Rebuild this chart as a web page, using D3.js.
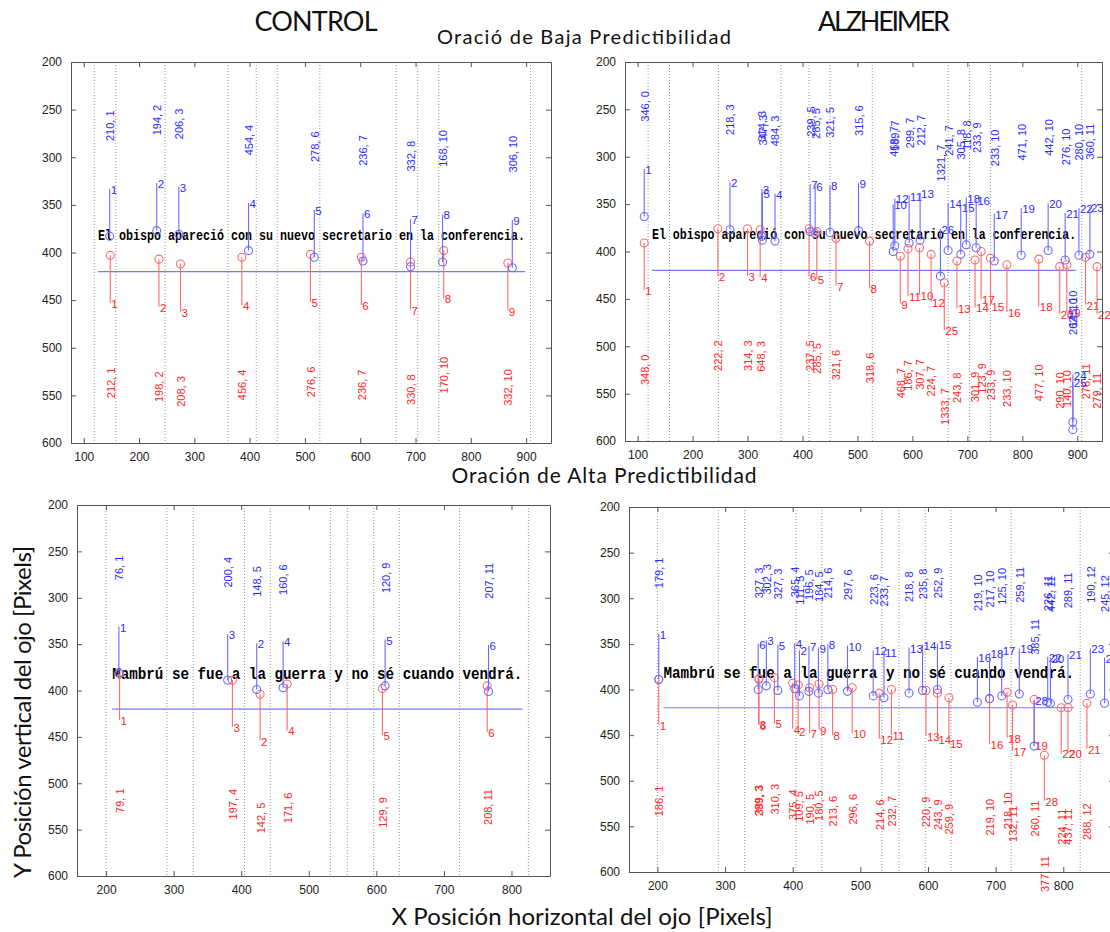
<!DOCTYPE html>
<html>
<head>
<meta charset="utf-8">
<script src="https://cdn.jsdelivr.net/npm/d3@7"></script>
<style>
  body { margin: 0; background: #fff; }
  svg { display: block; }
  text { font-family: "Liberation Sans", Arial, sans-serif; }
</style>
</head>
<body>
<svg width="1110" height="932"></svg>
<script>
// sentences shown under the fixations
var sentenceBaja = "El obispo apareció con su nuevo secretario en la conferencia.";
var sentenceAlta = "Mambrú se fue a la guerra y no sé cuando vendrá.";
var spanBaja = [126, 898];   // x extent of the sentence (pixels of the eye tracker)
var spanAlta = [209, 816];
var sentenceY = 383;
var lineY = 420;

// word boundaries (dotted lines)
var edgesBaja = [119, 158, 247, 361, 412, 450, 527, 665, 704, 742, 908];
var edgesAlta = [200, 290, 329, 405, 443, 532, 557, 596, 634, 723, 825];

var yTicks = [200, 250, 300, 350, 400, 450, 500, 550, 600];
var xTicksBaja = [100, 200, 300, 400, 500, 600, 700, 800, 900];
var xTicksAlta = [200, 300, 400, 500, 600, 700, 800];

// fixations: [order, x, y, duration, word]
var controlBajaBlue = [
  [1, 147, 383, 210, 1], [2, 232, 377, 194, 2], [3, 272, 381, 206, 3],
  [4, 398, 398, 454, 4], [5, 517, 405, 278, 6], [6, 605, 409, 236, 7],
  [7, 691, 415, 332, 8], [8, 749, 410, 168, 10], [9, 875, 416, 306, 10]
];
var controlBajaRed = [
  [1, 148, 403, 212, 1], [2, 236, 407, 198, 2], [3, 275, 412, 208, 3],
  [4, 386, 405, 456, 4], [5, 510, 402, 276, 6], [6, 602, 405, 236, 7],
  [7, 691, 410, 330, 8], [8, 751, 398, 170, 10], [9, 867, 411, 332, 10]
];
var alzBajaBlue = [
  [1, 112, 363, 346, 0], [2, 268, 377, 218, 3], [3, 326, 384, 314, 3],
  [5, 327, 388, 347, 3], [4, 350, 389, 484, 3], [7, 414, 379, 239, 5],
  [6, 423, 381, 285, 5], [8, 450, 380, 321, 5], [9, 502, 378, 315, 6],
  [10, 565, 400, 468, 7], [12, 568, 394, 189, 7], [11, 594, 391, 299, 7],
  [13, 614, 388, 212, 7], [26, 651, 426, 1321, 7], [14, 665, 399, 241, 7],
  [15, 688, 403, 305, 8], [18, 698, 393, 118, 8], [16, 716, 396, 233, 9],
  [17, 749, 410, 233, 10], [19, 798, 404, 471, 10], [20, 847, 399, 442, 10],
  [21, 878, 409, 276, 10], [22, 903, 404, 280, 10], [23, 923, 403, 360, 11],
  [24, 892, 580, 145, 10], [25, 892, 588, 262, 10]
];
var alzBajaRed = [
  [1, 112, 391, 348, 0], [2, 246, 376, 222, 2], [3, 300, 376, 314, 3],
  [4, 323, 377, 648, 3], [6, 412, 376, 237, 5], [5, 426, 379, 285, 5],
  [7, 461, 386, 321, 6], [8, 522, 389, 318, 6], [9, 578, 405, 468, 7],
  [11, 592, 397, 186, 7], [10, 613, 396, 307, 7], [12, 634, 403, 224, 7],
  [25, 658, 433, 1333, 7], [13, 681, 410, 243, 8], [14, 714, 409, 301, 9],
  [17, 725, 400, 123, 9], [15, 742, 407, 233, 9], [16, 772, 414, 233, 10],
  [18, 830, 408, 477, 10], [20, 868, 416, 290, 10], [19, 881, 414, 140, 10],
  [21, 915, 406, 276, 11], [22, 936, 416, 279, 11]
];
var controlAltaBlue = [
  [1, 219, 381, 76, 1], [3, 380, 389, 200, 4], [2, 423, 399, 148, 5],
  [4, 462, 397, 160, 6], [5, 613, 395, 120, 9], [6, 766, 401, 207, 11]
];
var controlAltaRed = [
  [1, 220, 382, 79, 1], [3, 387, 389, 197, 4], [2, 428, 404, 142, 5],
  [4, 468, 393, 171, 6], [5, 609, 398, 129, 9], [6, 764, 395, 208, 11]
];
var alzAltaBlue = [
  [1, 202, 389, 179, 1], [6, 349, 400, 327, 3], [3, 361, 396, 302, 3],
  [5, 378, 401, 327, 3], [4, 403, 399, 365, 4], [2, 410, 407, 111, 5],
  [7, 424, 402, 196, 5], [9, 438, 404, 184, 5], [8, 452, 400, 214, 6],
  [10, 481, 402, 297, 6], [12, 519, 407, 223, 6], [11, 535, 409, 233, 7],
  [13, 572, 404, 218, 8], [14, 592, 401, 235, 8], [15, 614, 400, 252, 9],
  [16, 673, 414, 219, 10], [18, 691, 410, 217, 10], [17, 709, 407, 125, 10],
  [19, 735, 405, 259, 11], [28, 757, 462, 385, 11], [22, 777, 414, 226, 11],
  [20, 781, 415, 442, 11], [21, 807, 411, 289, 11], [23, 840, 405, 190, 12],
  [24, 861, 415, 245, 12]
];
var alzAltaRed = [
  [1, 202, 389, 186, 1], [6, 350, 389, 299, 3], [3, 350, 388, 389, 3],
  [5, 373, 387, 310, 3], [4, 400, 393, 375, 4], [2, 408, 395, 109, 5],
  [7, 425, 398, 190, 5], [9, 439, 394, 180, 5], [8, 459, 400, 213, 6],
  [10, 488, 398, 296, 6], [12, 528, 404, 214, 6], [11, 546, 400, 232, 7],
  [13, 597, 401, 220, 9], [14, 614, 404, 243, 9], [15, 631, 409, 259, 9],
  [16, 691, 410, 219, 10], [18, 717, 403, 218, 10], [17, 725, 417, 132, 11],
  [19, 757, 411, 260, 11], [28, 772, 472, 377, 11], [22, 797, 420, 224, 11],
  [20, 807, 420, 437, 11], [21, 835, 415, 288, 12]
];

var svg = d3.select("svg");
var BLUE = "#2b2bff", RED = "#ff2626";

var panels = [
  { box: [71, 62, 551, 443], xDom: [77, 945], xTicks: xTicksBaja, edges: edgesBaja,
    text: sentenceBaja, span: spanBaja, fs: 14, blue: controlBajaBlue, red: controlBajaRed },
  { box: [625, 62, 1102, 441], xDom: [77, 945], xTicks: xTicksBaja, edges: edgesBaja,
    text: sentenceBaja, span: spanBaja, fs: 14, blue: alzBajaBlue, red: alzBajaRed },
  { box: [77, 505, 550, 876], xDom: [157, 857], xTicks: xTicksAlta, edges: edgesAlta,
    text: sentenceAlta, span: spanAlta, fs: 17, blue: controlAltaBlue, red: controlAltaRed },
  { box: [629, 507, 1114, 872], xDom: [158, 875], xTicks: xTicksAlta, edges: edgesAlta,
    text: sentenceAlta, span: spanAlta, fs: 17, blue: alzAltaBlue, red: alzAltaRed }
];

panels.forEach(drawPanel);

function drawPanel(p) {
  var x = d3.scaleLinear().domain(p.xDom).range([p.box[0], p.box[2]]);
  var y = d3.scaleLinear().domain([200, 600]).range([p.box[1], p.box[3]]);
  var g = svg.append("g");

  // word boundaries
  g.selectAll(".edge").data(p.edges).enter().append("line")
    .attr("x1", function(d) { return x(d); })
    .attr("x2", function(d) { return x(d); })
    .attr("y1", p.box[1]).attr("y2", p.box[3])
    .attr("stroke", "#8a8a8a").attr("stroke-width", 0.9)
    .attr("stroke-dasharray", "1,2");

  // sentence + reference line
  g.append("text")
    .attr("x", x(p.span[0])).attr("y", y(sentenceY))
    .attr("dominant-baseline", "middle")
    .attr("textLength", x(p.span[1]) - x(p.span[0]))
    .attr("lengthAdjust", "spacingAndGlyphs")
    .style("font-family", "'Liberation Mono', 'Courier New', monospace")
    .style("font-weight", "bold")
    .style("font-size", p.fs + "px")
    .text(p.text);

  g.append("line")
    .attr("x1", x(p.span[0])).attr("x2", x(p.span[1]))
    .attr("y1", y(lineY)).attr("y2", y(lineY))
    .attr("stroke", "#7777ff").attr("stroke-width", 1.2);

  drawFix(g, p.red, RED, "#ff6a6a", 1, x, y);
  drawFix(g, p.blue, BLUE, "#6a6aff", -1, x, y);

  // axes (ticks pointing in, on all four sides)
  var bottom = g.append("g").attr("transform", "translate(0," + p.box[3] + ")")
    .call(d3.axisBottom(x).tickValues(p.xTicks).tickSizeInner(-5).tickSizeOuter(0).tickPadding(9));
  var top = g.append("g").attr("transform", "translate(0," + p.box[1] + ")")
    .call(d3.axisTop(x).tickValues(p.xTicks).tickSizeInner(-5).tickSizeOuter(0).tickFormat(""));
  var left = g.append("g").attr("transform", "translate(" + p.box[0] + ",0)")
    .call(d3.axisLeft(y).tickValues(yTicks).tickSizeInner(-5).tickSizeOuter(0).tickPadding(9));
  var right = g.append("g").attr("transform", "translate(" + p.box[2] + ",0)")
    .call(d3.axisRight(y).tickValues(yTicks).tickSizeInner(-5).tickSizeOuter(0).tickFormat(""));
  [bottom, top, left, right].forEach(function(a) {
    a.selectAll("path, line").attr("stroke", "#555");
    a.selectAll("text").attr("fill", "#222").style("font-size", "12px")
      .style("font-family", "'Liberation Sans', Arial, sans-serif");
  });
}

function drawFix(g, data, col, stemCol, dir, x, y) {
  var stem = 50, lab = dir < 0 ? 100 : 150;
  var f = g.selectAll(null).data(data).enter().append("g");
  f.append("line")
    .attr("x1", function(d) { return x(d[1]); })
    .attr("x2", function(d) { return x(d[1]); })
    .attr("y1", function(d) { return y(d[2]); })
    .attr("y2", function(d) { return y(d[2] + dir * stem); })
    .attr("stroke", stemCol).attr("stroke-width", 1.1);
  f.append("circle")
    .attr("cx", function(d) { return x(d[1]); })
    .attr("cy", function(d) { return y(d[2]); })
    .attr("r", 4).attr("fill", "none")
    .attr("stroke", stemCol).attr("stroke-width", 1.1);
  f.append("text")
    .attr("x", function(d) { return x(d[1]) + 1; })
    .attr("y", function(d) { return y(d[2] + dir * stem) + 2; })
    .attr("dominant-baseline", "middle")
    .attr("fill", col).style("font-size", "11.5px")
    .text(function(d) { return d[0]; });
  f.append("text")
    .attr("transform", function(d) {
      return "translate(" + (x(d[1]) + 1.5) + "," + y(d[2] + dir * lab) + ") rotate(-90)";
    })
    .attr("dominant-baseline", "middle")
    .attr("fill", col).style("font-size", "11px")
    .text(function(d) { return d[3] + ", " + d[4]; });
}

// titles
function title(txt, xp, yp, size, len, rot) {
  var t = svg.append("text")
    .attr("text-anchor", "middle")
    .attr("textLength", len)
    .style("font-family", "Lato, 'Open Sans', sans-serif")
    .style("font-size", size + "px")
    .attr("fill", "#111")
    .text(txt);
  if (rot) t.attr("transform", "translate(" + xp + "," + yp + ") rotate(-90)");
  else t.attr("x", xp).attr("y", yp);
}
title("CONTROL", 316, 31, 27, 123);
title("ALZHEIMER", 884, 31, 27, 132);
title("Oració de Baja Predictibilidad", 584, 44, 20, 294);
title("Oración de Alta Predictibilidad", 604, 483, 21, 305);
title("X Posición horizontal del ojo [Pixels]", 582, 925, 24, 381);
title("Y Posición vertical  del ojo [Pixels]", 31, 712, 24, 332, true);
</script>
</body>
</html>
